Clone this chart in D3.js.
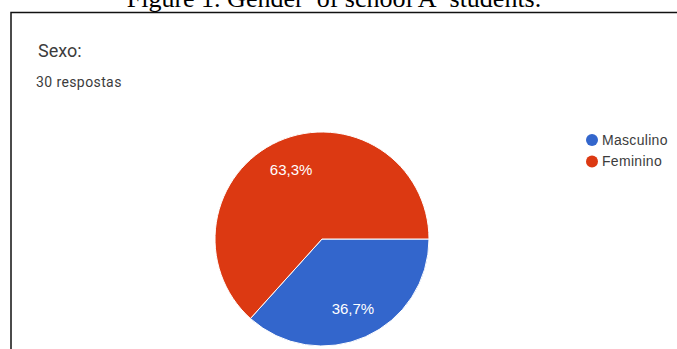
<!DOCTYPE html>
<html>
<head>
<meta charset="utf-8">
<script src="https://cdn.jsdelivr.net/npm/d3@7"></script>
<style>
  html, body { margin: 0; padding: 0; background: #fff; }
  svg { display: block; }
</style>
</head>
<body>
<svg id="chart" width="677" height="349"></svg>
<script>
// Survey answers: "Sexo:" (30 responses)
const categories = ["Masculino", "Feminino"];
const counts = [11, 19];
const colors = ["#3366cc", "#dc3912"];
const caption = "Figure 1. Gender\u00a0 of school A\u00a0 students.";
const title = "Sexo:";
const subtitle = "30 respostas";

const svg = d3.select("#chart");
const total = d3.sum(counts);
const data = categories.map((c, i) => ({ name: c, value: counts[i], color: colors[i] }));

// figure caption (clipped by the top edge)
svg.append("text")
  .attr("x", 334).attr("y", 7)
  .attr("text-anchor", "middle")
  .attr("font-family", "'Liberation Serif', 'Times New Roman', serif")
  .attr("font-size", 26)
  .attr("fill", "#000")
  .text(caption);

// frame around the form card
svg.append("rect")
  .attr("x", 11).attr("y", 12.5)
  .attr("width", 720).attr("height", 400)
  .attr("fill", "#fff")
  .attr("stroke", "#111")
  .attr("stroke-width", 1.5);

svg.append("text")
  .attr("x", 38).attr("y", 57)
  .attr("font-family", "Roboto, Arial, sans-serif")
  .attr("font-size", 18)
  .attr("fill", "#3c3c3c")
  .text(title);

svg.append("text")
  .attr("x", 36).attr("y", 87)
  .attr("font-family", "Roboto, Arial, sans-serif")
  .attr("font-size", 14)
  .attr("letter-spacing", 0.4)
  .attr("fill", "#3c3c3c")
  .text(subtitle);

// pie
const cx = 322, cy = 239, r = 107;
const pie = d3.pie().value(d => d.value).sort(null)
  .startAngle(Math.PI / 2).endAngle(Math.PI / 2 + 2 * Math.PI);
const arc = d3.arc().innerRadius(0).outerRadius(r);
const labelArc = d3.arc().innerRadius(r * 0.71).outerRadius(r * 0.71);

const g = svg.append("g").attr("transform", `translate(${cx},${cy})`);
const arcs = pie(data);
g.selectAll("path.slice").data(arcs).join("path")
  .attr("class", "slice")
  .attr("d", arc)
  .attr("fill", d => d.data.color)
  .attr("stroke", "#fff")
  .attr("stroke-width", 1);

const fmt = v => (v / total * 100).toFixed(1).replace(".", ",") + "%";
g.selectAll("text.pct").data(arcs).join("text")
  .attr("class", "pct")
  .attr("transform", d => `translate(${labelArc.centroid(d)})`)
  .attr("text-anchor", "middle")
  .attr("dy", "0.35em")
  .attr("font-family", "Arial, 'Liberation Sans', sans-serif")
  .attr("font-size", 15)
  .attr("fill", "#fff")
  .text(d => fmt(d.data.value));

// legend
const legend = svg.append("g").attr("transform", "translate(592,140)");
const rows = legend.selectAll("g").data(data).join("g")
  .attr("transform", (d, i) => `translate(0,${i * 21.5})`);
rows.append("circle").attr("r", 6).attr("fill", d => d.color);
rows.append("text")
  .attr("x", 10).attr("y", 0).attr("dy", "0.35em")
  .attr("font-family", "Arial, 'Liberation Sans', sans-serif")
  .attr("font-size", 14)
  .attr("letter-spacing", 0.3)
  .attr("fill", "#3c3c3c")
  .text(d => d.name);
</script>
</body>
</html>
